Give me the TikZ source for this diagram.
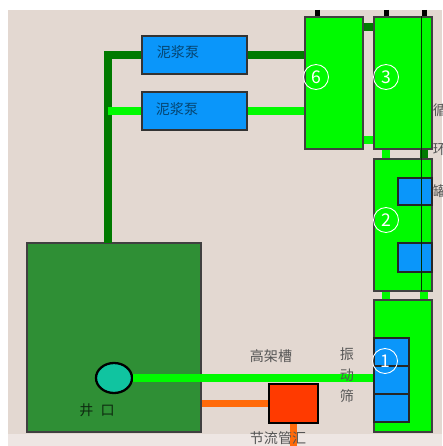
\documentclass[tikz,border=0pt]{standalone}
\usepackage{fontspec}
\usetikzlibrary{shapes.geometric}
\setmainfont{Noto Sans CJK SC}
\definecolor{wall}{HTML}{E3D8D1}
\definecolor{wallpale}{HTML}{EEE6E3}
\definecolor{tankgreen}{HTML}{2F8F35}
\definecolor{lightpipe}{HTML}{00FA00}
\definecolor{darkpipe}{HTML}{007A00}
\definecolor{pumpblue}{HTML}{0A96FA}
\definecolor{orangepipe}{HTML}{FF6A0A}
\definecolor{chokered}{HTML}{FF3A00}
\definecolor{welteal}{HTML}{10C4A0}
\definecolor{inkgray}{HTML}{555555}
\tikzset{
  pit/.style={draw=black!75, line width=1.5pt, fill=lightpipe, inner sep=0pt, minimum width=58*0.4mm, minimum height=132*0.4mm},
  pump/.style={draw=black!80, line width=1.5pt, fill=pumpblue, inner sep=0pt, minimum width=105*0.4mm, minimum height=38*0.4mm},
  bluebox/.style={draw=black!85, line width=1.5pt, fill=pumpblue, inner sep=0pt},
  lightline/.style={lightpipe, line width=3mm},
  darkline/.style={darkpipe, line width=3mm},
  orangeline/.style={orangepipe, line width=3mm},
  stub/.style={black, line width=2mm},
  num/.style={draw=white, circle, line width=1pt, text=white, inner sep=0pt, minimum size=25*0.4mm, font=\fontsize{20}{20}\selectfont},
  tag/.style={text=inkgray, inner sep=0pt, font=\fontsize{16}{16}\selectfont},
  pumpname/.style={text=pumpblue!45!black, inner sep=0pt, font=\fontsize{16}{16}\selectfont}
}
\begin{document}
\begin{tikzpicture}[x=0.4mm,y=-0.4mm]
\useasboundingbox (0,0) rectangle (442,446);
\clip (0,0) rectangle (442,446);
\fill[wall] (8,10) rectangle (442,446);
\fill[wallpale] (8,434) rectangle (442,446);
\node[tag] (tankc) at (440,110) {循};
\node[tag] (tankh) at (440,150) {环};
\node[tag] (tankg) at (440,191) {罐};
\node[pit] (pitsix) at (334,83) {};
\node[pit] (pitthree) at (403,83) {};
\node[pit] (pittwo) at (403,225) {};
\node[pit] (pitone) at (403,366) {};
\node[bluebox, minimum width=34*0.4mm, minimum height=27*0.4mm] (blueA) at (415,191.5) {};
\node[bluebox, minimum width=34*0.4mm, minimum height=29*0.4mm] (blueB) at (415,257.5) {};
\node[bluebox, minimum width=35*0.4mm, minimum height=28*0.4mm] (blueC) at (391.5,352) {};
\node[bluebox, minimum width=35*0.4mm, minimum height=28*0.4mm] (blueD) at (391.5,380) {};
\node[bluebox, minimum width=35*0.4mm, minimum height=28*0.4mm] (blueE) at (391.5,408) {};
\node[pump] (pumpA) at (194.5,55) {};
\node[pump] (pumpB) at (194.5,111) {};
\node[draw=black!75, line width=1.2pt, fill=tankgreen, inner sep=0pt, minimum width=174*0.4mm, minimum height=189*0.4mm] (tank) at (114,337.5) {};
\node[draw=black, line width=2.6pt, fill=welteal, ellipse, inner sep=0pt, minimum width=36*0.4mm, minimum height=30*0.4mm] (well) at (114,378) {};
\node[draw=black, line width=2.6pt, fill=chokered, inner sep=0pt, minimum width=49*0.4mm, minimum height=39*0.4mm] (choke) at (293.5,403.5) {};
\coordinate (riser) at (108,243);
\coordinate (topA) at (317,10);
\coordinate (topB) at (386,10);
\coordinate (topC) at (424,10);
\coordinate (sideline) at (421,291);
\coordinate (bottom) at (293.5,446);
\draw[darkline] (pumpA.west) -| (riser);
\draw[lightline] (pumpB.west) -- (riser |- pumpB.west);
\draw[darkline] (pumpA.east) -- (pitsix.west |- pumpA.east);
\draw[lightline] (pumpB.east) -- (pitsix.west |- pumpB.east);
\draw[darkline] (pitsix.east |- 0,27) -- (pitthree.west |- 0,27);
\draw[lightline] (pitsix.east |- 0,140) -- (pitthree.west |- 0,140);
\draw[lightline] (pitthree.south -| topB) -- (pittwo.north -| topB);
\draw[darkline] (pitthree.south -| topC) -- (pittwo.north -| topC);
\draw[lightline] (pittwo.south -| topB) -- (pitone.north -| topB);
\draw[lightline] (pittwo.south -| topC) -- (pitone.north -| topC);
\draw[stub] (topA) -- (pitsix.north -| topA);
\draw[stub] (topB) -- (pitthree.north -| topB);
\draw[stub] (topC) -- (pitthree.north -| topC);
\draw[black!60!darkpipe, line width=1pt] (pitthree.north -| sideline) -- (sideline);
\draw[lightline] (well.east) -- (pitone.west |- well.east);
\draw[orangeline] (tank.east |- choke.west) -- (choke.west);
\draw[orangeline] (choke.south) -- (bottom);
\node[num] (six) at (316,77) {6};
\node[num] (three) at (386,77) {3};
\node[num] (two) at (386,220) {2};
\node[num] (one) at (385,361) {1};
\node[pumpname] (nameA) at (178,52) {泥浆泵};
\node[pumpname] (nameB) at (177,109) {泥浆泵};
\node[tag] (trough) at (271,356) {高架槽};
\node[tag] (screenA) at (347,354) {振};
\node[tag] (screenB) at (347,375) {动};
\node[tag] (screenC) at (347,396) {筛};
\node[tag, text=black!70!tankgreen] (wellname) at (97,410) {井\hspace{0.5em}口};
\node[tag] (manifold) at (278,438) {节流管汇};
\end{tikzpicture}
\end{document}
